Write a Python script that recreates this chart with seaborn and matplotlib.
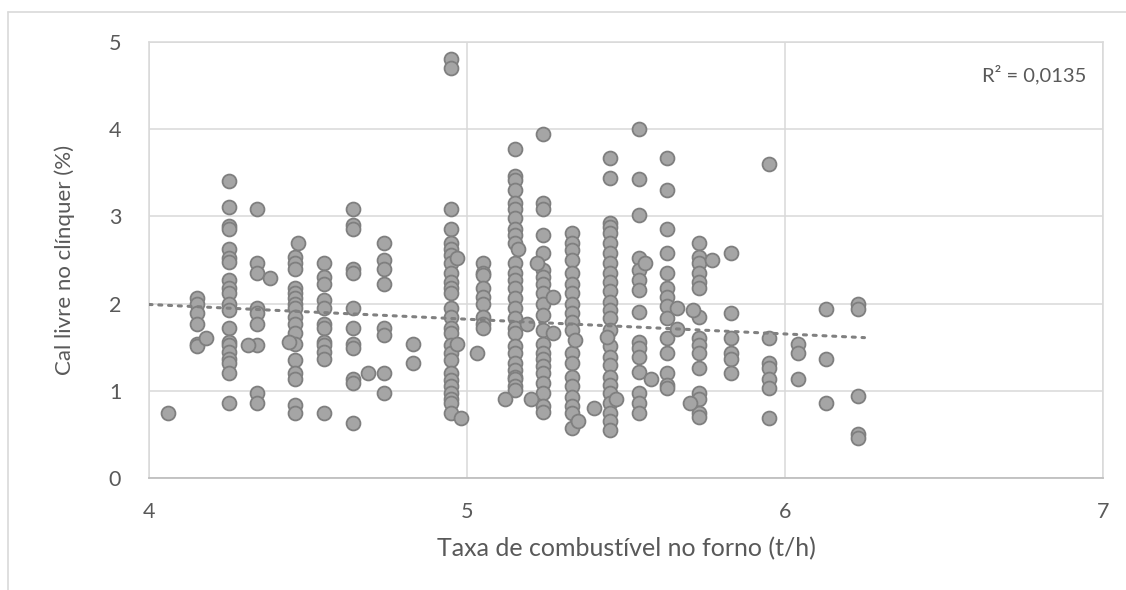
import numpy as np
import pandas as pd
import matplotlib
matplotlib.use("Agg")
import matplotlib.pyplot as plt
from matplotlib.lines import Line2D
import seaborn as sns

# Fuel feed rate to the kiln (t/h) and free lime in clinker (%), one pair per sample
taxa_combustivel = (
    [4.06]
    + [4.15] * 6 + [4.18]
    + [4.25] * 20
    + [4.34] * 9 + [4.31, 4.38]
    + [4.46] * 17 + [4.47, 4.44]
    + [4.55] * 12
    + [4.64] * 12 + [4.69]
    + [4.74] * 8
    + [4.83] * 2
    + [4.95] * 26 + [4.97, 4.97, 4.98]
    + [5.05] * 9 + [5.03]
    + [5.15] * 27 + [5.16, 5.12]
    + [5.24] * 21 + [5.22, 5.27, 5.27, 5.19, 5.20]
    + [5.33] * 19 + [5.34, 5.35, 5.40]
    + [5.45] * 25 + [5.44, 5.47]
    + [5.54] * 15 + [5.56, 5.58]
    + [5.63] * 14 + [5.66, 5.66]
    + [5.73] * 15 + [5.71, 5.70, 5.77]
    + [5.83] * 6
    + [5.95] * 7
    + [6.04] * 3
    + [6.13] * 3
    + [6.23] * 5
)

cal_livre = [
    0.74,
    2.06, 2.00, 1.89, 1.77, 1.54, 1.51, 1.60,
    3.41, 3.11, 2.89, 2.86, 2.63, 2.52, 2.48, 2.27, 2.18, 2.12,
    2.00, 1.93, 1.72, 1.56, 1.53, 1.45, 1.36, 1.32, 1.20, 0.86,
    3.09, 2.46, 2.35, 1.95, 1.89, 1.77, 1.53, 0.97, 0.86, 1.53, 2.29,
    2.54, 2.46, 2.40, 2.18, 2.12, 2.06, 2.00, 1.95, 1.85, 1.77,
    1.66, 1.54, 1.35, 1.20, 1.14, 0.84, 0.74, 2.69, 1.56,
    2.46, 2.31, 2.23, 2.04, 1.95, 1.77, 1.72, 1.56, 1.53, 1.45, 1.37, 0.74,
    3.09, 2.90, 2.86, 2.40, 2.35, 1.95, 1.72, 1.54, 1.49, 1.14, 1.09, 0.63, 1.20,
    2.69, 2.50, 2.40, 2.23, 1.72, 1.64, 1.20, 0.97,
    1.54, 1.32,
    4.80, 4.70, 3.09, 2.86, 2.69, 2.63, 2.56, 2.46, 2.35, 2.25, 2.18, 2.12, 1.95,
    1.85, 1.72, 1.66, 1.53, 1.43, 1.35, 1.20, 1.12, 1.05, 0.97, 0.91, 0.86, 0.74,
    2.52, 1.54, 0.69,
    2.46, 2.35, 2.33, 2.18, 2.08, 2.00, 1.85, 1.77, 1.72, 1.43,
    3.77, 3.46, 3.42, 3.30, 3.15, 3.09, 2.98, 2.86, 2.79, 2.69, 2.46, 2.35, 2.27, 2.18,
    2.06, 1.95, 1.83, 1.72, 1.66, 1.51, 1.43, 1.32, 1.24, 1.16, 1.14, 1.05, 1.01,
    2.63, 0.91,
    3.95, 3.15, 3.09, 2.79, 2.58, 2.39, 2.31, 2.23, 2.12, 2.00, 1.87,
    1.70, 1.54, 1.43, 1.37, 1.28, 1.20, 1.09, 0.97, 0.82, 0.76,
    2.46, 2.08, 1.66, 1.77, 0.91,
    2.81, 2.69, 2.61, 2.50, 2.35, 2.23, 2.12, 2.00, 1.89, 1.79,
    1.70, 1.43, 1.32, 1.16, 1.05, 0.93, 0.82, 0.74, 0.57,
    1.58, 0.65, 0.80,
    3.67, 3.44, 2.92, 2.88, 2.81, 2.69, 2.58, 2.46, 2.35, 2.25, 2.14, 2.02, 1.93,
    1.83, 1.70, 1.51, 1.39, 1.30, 1.16, 1.07, 0.97, 0.86, 0.74, 0.65, 0.55,
    1.62, 0.91,
    4.00, 3.43, 3.02, 2.52, 2.39, 2.27, 2.16, 1.90, 1.56, 1.49, 1.39, 1.22, 0.97, 0.86, 0.74,
    2.46, 1.14,
    3.67, 3.30, 2.86, 2.58, 2.35, 2.18, 2.08, 1.97, 1.83, 1.60, 1.43, 1.20, 1.07, 1.03,
    1.95, 1.71,
    2.69, 2.54, 2.46, 2.35, 2.25, 2.18, 1.85, 1.60, 1.53, 1.43, 1.26, 0.97, 0.91, 0.74, 0.70,
    1.93, 0.86, 2.50,
    2.58, 1.89, 1.60, 1.43, 1.37, 1.20,
    3.60, 1.60, 1.32, 1.26, 1.14, 1.03, 0.69,
    1.54, 1.43, 1.14,
    1.94, 1.37, 0.86,
    2.00, 1.94, 0.94, 0.51, 0.46,
]

x_ticks = [4, 5, 6, 7]
y_ticks = [0, 1, 2, 3, 4, 5]
x_label = "Taxa de combustível no forno (t/h)"
y_label = "Cal livre no clínquer (%)"
r2_label = "R² = 0,0135"

# Linear trend of the full sample (y = a·x + b) and the x span it covers
trend_slope = -0.169
trend_intercept = 2.666
trend_range = [4.0, 6.25]

df = pd.DataFrame({"taxa": taxa_combustivel, "cal": cal_livre})

sns.set_theme(style="white")
plt.rcParams["font.family"] = ["Lato", "DejaVu Sans"]

text_color = "#595959"
grid_color = "#d9d9d9"

fig = plt.figure(figsize=(11.26, 5.90), dpi=100)
ax = fig.add_axes([149 / 1126, 1 - 478 / 590, (1103 - 149) / 1126, (478 - 42) / 590])

sns.scatterplot(
    data=df, x="taxa", y="cal", ax=ax,
    s=100, color="#a5a5a5", edgecolor="#7f7f7f", linewidth=1.3,
    zorder=3, legend=False,
)

# Linear trend line
xt = np.array(trend_range)
ax.plot(xt, trend_slope * xt + trend_intercept, linestyle=(0, (1, 2.2)), linewidth=2.2,
        color="#808080", zorder=4, dash_capstyle="round")

ax.set_xlim(4, 7)
ax.set_ylim(0, 5)
ax.set_xticks(x_ticks)
ax.set_yticks(y_ticks)
ax.grid(True, color=grid_color, linewidth=1.1, zorder=0)
ax.set_axisbelow(True)
for side, spine in ax.spines.items():
    spine.set_color(grid_color)
    spine.set_linewidth(1.1)
ax.spines["bottom"].set_color("#bfbfbf")
ax.spines["bottom"].set_linewidth(1.3)

ax.tick_params(axis="both", length=0, labelsize=15.5, labelcolor=text_color)
ax.tick_params(axis="x", pad=17)
ax.tick_params(axis="y", pad=20)
ax.set_xlabel(x_label, fontsize=18, color=text_color, labelpad=11)
ax.set_ylabel(y_label, fontsize=16, color=text_color, labelpad=24)

ax.text(0.983, 0.925, r2_label, transform=ax.transAxes, ha="right", va="center",
        fontsize=14.5, color=text_color)

# Chart area border (left and top edges)
fig.add_artist(Line2D([8 / 1126, 8 / 1126], [0, 1 - 12 / 590], transform=fig.transFigure,
                      color=grid_color, linewidth=1.2))
fig.add_artist(Line2D([8 / 1126, 1], [1 - 12 / 590, 1 - 12 / 590], transform=fig.transFigure,
                      color=grid_color, linewidth=1.2))

fig.savefig("out.png", dpi=100, facecolor="white")
